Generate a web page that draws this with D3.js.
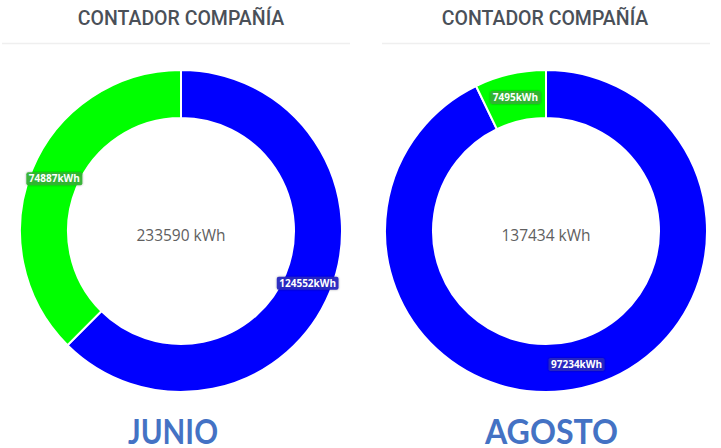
<!DOCTYPE html>
<html><head><meta charset="utf-8">
<script src="https://cdn.jsdelivr.net/npm/d3@7"></script>
<style>
html,body{margin:0;padding:0;background:#fff;}
svg{display:block;}
</style></head>
<body>
<svg id="chart" width="721" height="448"></svg>
<script>
const months = ["JUNIO", "AGOSTO"];
const titles = ["CONTADOR COMPAÑÍA", "CONTADOR COMPAÑÍA"];
const seriesNames = ["Consumo", "Producción"];
const junioValues = [124552, 74887];
const agostoValues = [97234, 7495];
const totals = [233590, 137434];
const colors = ["#0000ff", "#00ff00"];
const labelBg = ["#2828c0", "#33b233"];

const svg = d3.select("#chart");

const panels = [
  {title: titles[0], values: junioValues, total: totals[0], month: months[0], x0: 2, x1: 350},
  {title: titles[1], values: agostoValues, total: totals[1], month: months[1], x0: 382, x1: 710}
];
const centers = [{cx: 181, cy: 231}, {cx: 546, cy: 231}];
const titleX = [181, 545];
const monthX = [173, 551.5];
const monthW = [90, 133];

const defs = svg.append("defs");
const f = defs.append("filter").attr("id", "sh").attr("x", "-30%").attr("y", "-50%").attr("width", "160%").attr("height", "200%");
f.append("feDropShadow").attr("dx", 0).attr("dy", 0).attr("stdDeviation", 1.2).attr("flood-color", "#000").attr("flood-opacity", 0.35);

const outerR = 161, innerR = 113;
const pie = d3.pie().sort(null).value(d => d);
const arc = d3.arc().innerRadius(innerR).outerRadius(outerR);
const labelArc = d3.arc().innerRadius((innerR + outerR) / 2).outerRadius((innerR + outerR) / 2);

panels.forEach((p, i) => {
  const c = centers[i];
  const g = svg.append("g");
  g.append("text")
    .attr("x", titleX[i])
    .attr("y", 25)
    .attr("text-anchor", "middle")
    .attr("font-family", "Roboto, sans-serif")
    .attr("font-weight", 500)
    .attr("font-size", 19.5)
    .attr("fill", "#4a5058")
    .text(p.title);
  g.append("line")
    .attr("x1", p.x0).attr("x2", p.x1)
    .attr("y1", 43.5).attr("y2", 43.5)
    .attr("stroke", "#efefef").attr("stroke-width", 1.5);

  const dg = g.append("g").attr("transform", `translate(${c.cx},${c.cy})`);
  const arcs = pie(p.values);
  dg.selectAll("path").data(arcs).join("path")
    .attr("d", arc)
    .attr("fill", (d, j) => colors[j])
    .attr("stroke", "#fff")
    .attr("stroke-width", 2)
    .attr("stroke-linejoin", "miter");

  dg.append("text")
    .attr("x", 0).attr("y", 10)
    .attr("text-anchor", "middle")
    .attr("font-family", "'Open Sans', sans-serif")
    .attr("font-size", 15.5)
    .attr("fill", "#606060")
    .text(p.total + " kWh");

  arcs.forEach((d, j) => {
    const [lx, ly] = labelArc.centroid(d);
    const txt = d.data + "kWh";
    const lg = dg.append("g").attr("transform", `translate(${lx},${ly})`);
    const t = lg.append("text")
      .attr("text-anchor", "middle")
      .attr("y", 3.6)
      .attr("font-family", "'Open Sans', sans-serif")
      .attr("font-weight", 700)
      .attr("font-size", 10)
      .attr("fill", "#fff")
      .text(txt);
    const bb = t.node().getBBox();
    lg.insert("rect", "text")
      .attr("x", bb.x - 2.5).attr("y", -6.5)
      .attr("width", bb.width + 5).attr("height", 13)
      .attr("rx", 2)
      .attr("fill", labelBg[j])
      .attr("fill-opacity", 0.95)
      .attr("filter", "url(#sh)");
  });

  g.append("text")
    .attr("x", monthX[i]).attr("y", 443.5)
    .attr("text-anchor", "middle")
    .attr("font-family", "Lato, 'Open Sans', sans-serif")
    .attr("font-weight", 700)
    .attr("font-size", 34)
    .attr("textLength", monthW[i])
    .attr("lengthAdjust", "spacingAndGlyphs")
    .attr("fill", "#4472c4")
    .text(p.month);
});
</script>
</body></html>
